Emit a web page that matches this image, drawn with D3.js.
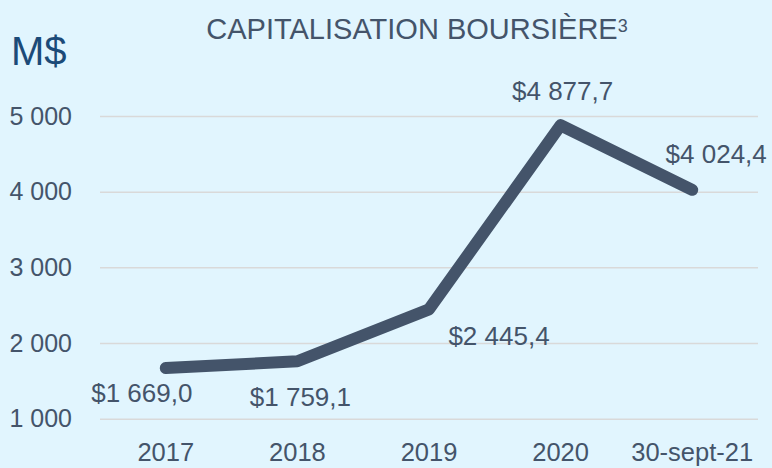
<!DOCTYPE html>
<html>
<head>
<meta charset="utf-8">
<script src="https://cdn.jsdelivr.net/npm/d3@7"></script>
<style>
  html, body { margin: 0; padding: 0; background: #e1f5fe; }
  svg { display: block; font-family: "Liberation Sans", Arial, sans-serif; }
</style>
</head>
<body>
<div id="chart"></div>
<script>
// Données
const categories = ["2017", "2018", "2019", "2020", "30-sept-21"];
const valeurs = [1669.0, 1759.1, 2445.4, 4877.7, 4024.4];
const yTicks = [1000, 2000, 3000, 4000, 5000];
const titre = "CAPITALISATION BOURSIÈRE";
const renvoi = "3";
const unite = "M$";

// Décalage des étiquettes par rapport aux points (mise en page)
const labelOffsets = [[-24, 34], [3, 45], [70, 36], [2, -25], [24, -27]];

const width = 772;
const height = 468;
const marginLeft = 100;
const marginRight = 14;
const yTop = 116;
const yBottom = 418.7;

const couleur = "#44546a";

const fr = d3.formatLocale({ decimal: ",", thousands: " ", grouping: [3], currency: ["$", ""] });
const fmtTick = fr.format(",d");
const fmtLabel = fr.format("$,.1f");

const x = d3.scaleBand().domain(categories).range([marginLeft, width - marginRight]);
const y = d3.scaleLinear().domain([1000, 5000]).range([yBottom, yTop]);

const svg = d3.select("#chart")
    .append("svg")
    .attr("width", width)
    .attr("height", height);

svg.append("rect")
    .attr("width", width)
    .attr("height", height)
    .attr("fill", "#e1f5fe");

// Titre (avec renvoi en exposant)
const t = svg.append("text")
    .attr("x", 417)
    .attr("y", 39)
    .attr("text-anchor", "middle")
    .attr("font-size", 29)
    .attr("fill", couleur)
    .text(titre);
t.append("tspan")
    .attr("font-size", 18)
    .attr("dy", -7)
    .text(renvoi);

// Unité
svg.append("text")
    .attr("x", 11)
    .attr("y", 65)
    .attr("font-size", 40)
    .attr("fill", "#1b4a78")
    .text(unite);

// Axe Y + grille
const yAxis = svg.append("g")
    .attr("transform", `translate(${marginLeft},0)`)
    .call(d3.axisLeft(y)
        .tickValues(yTicks)
        .tickSize(-(width - marginRight - marginLeft))
        .tickPadding(28)
        .tickFormat(fmtTick));
yAxis.select(".domain").remove();
yAxis.selectAll(".tick line").attr("stroke", "#d9d9d9").attr("stroke-width", 1.5);
yAxis.selectAll(".tick text")
    .attr("fill", couleur)
    .attr("font-size", 25)
    .attr("font-family", "Liberation Sans, Arial, sans-serif");

// Axe X
const xAxis = svg.append("g")
    .attr("transform", `translate(0,${yBottom})`)
    .call(d3.axisBottom(x).tickSize(0).tickPadding(24));
xAxis.select(".domain").remove();
xAxis.selectAll(".tick text")
    .attr("fill", couleur)
    .attr("font-size", 25.5)
    .attr("font-family", "Liberation Sans, Arial, sans-serif");

// Ligne
const cx = d => x(d.cat) + x.bandwidth() / 2;
const points = categories.map((c, i) => ({ cat: c, val: valeurs[i], i }));

const ligne = d3.line()
    .x(cx)
    .y(d => y(d.val));

svg.append("path")
    .datum(points)
    .attr("fill", "none")
    .attr("stroke", couleur)
    .attr("stroke-width", 12)
    .attr("stroke-linecap", "round")
    .attr("stroke-linejoin", "round")
    .attr("d", ligne);

// Étiquettes de données
svg.selectAll(".etiquette")
    .data(points)
    .enter()
    .append("text")
    .attr("class", "etiquette")
    .attr("x", d => cx(d) + labelOffsets[d.i][0])
    .attr("y", d => y(d.val) + labelOffsets[d.i][1])
    .attr("text-anchor", "middle")
    .attr("font-size", 26)
    .attr("fill", couleur)
    .text(d => fmtLabel(d.val));
</script>
</body>
</html>
